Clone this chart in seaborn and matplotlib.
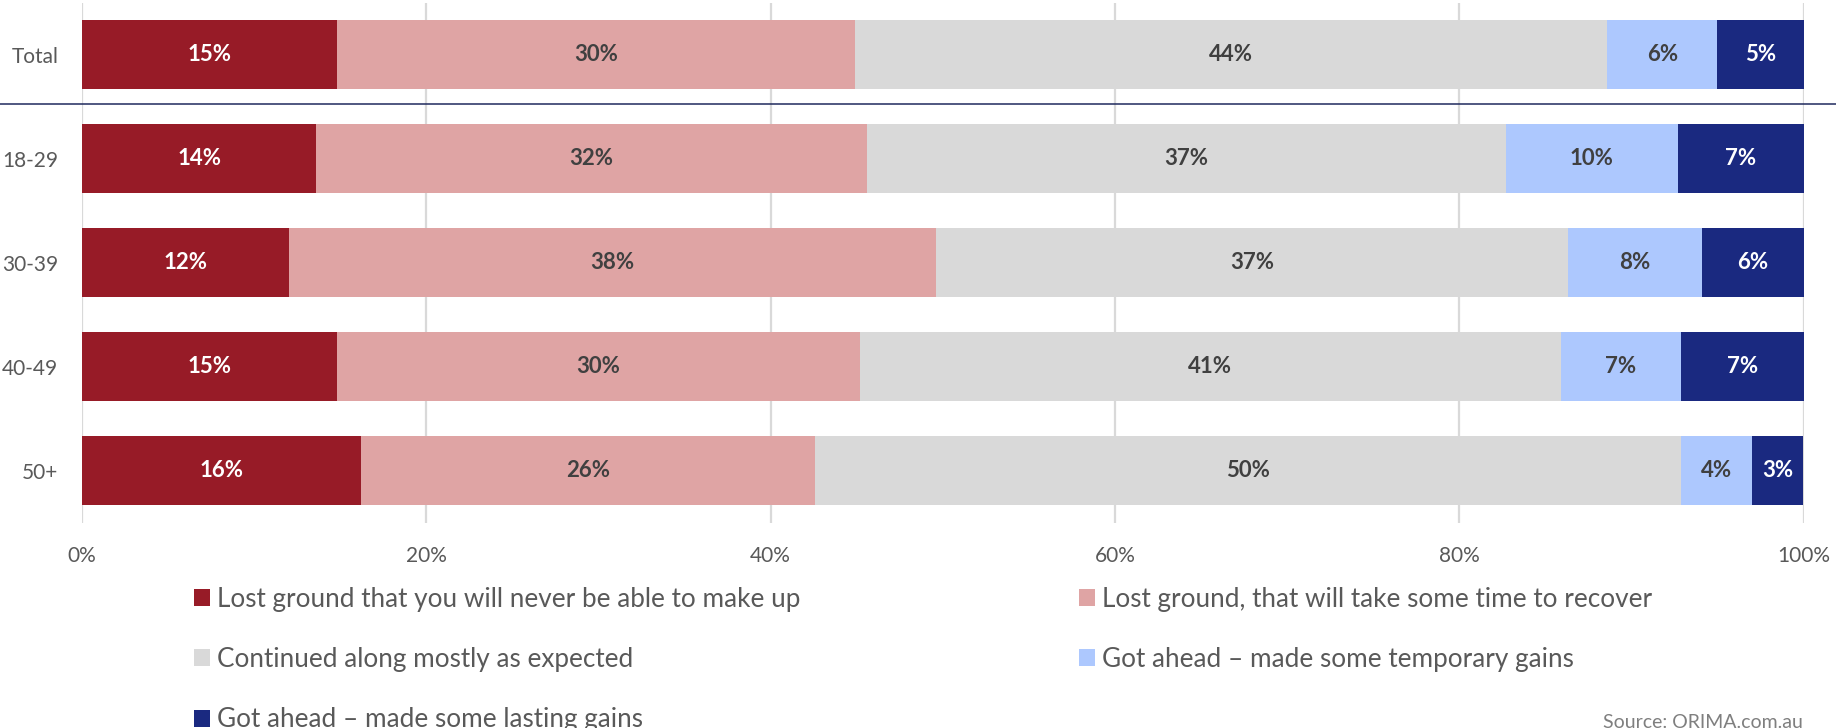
import numpy as np
import pandas as pd
import matplotlib
matplotlib.use('Agg')
import matplotlib.pyplot as plt
from matplotlib.patches import Patch
import seaborn as sns

# ---------------- data ----------------
groups = ['Total', '18-29', '30-39', '40-49', '50+']
series = ['Lost ground that you will never be able to make up',
          'Lost ground, that will take some time to recover',
          'Continued along mostly as expected',
          'Got ahead \u2013 made some temporary gains',
          'Got ahead \u2013 made some lasting gains']
never_make_up = [14.8, 13.6, 12.0, 14.8, 16.2]
some_time = [30.1, 32.0, 37.6, 30.4, 26.4]
as_expected = [43.7, 37.1, 36.7, 40.7, 50.3]
temporary = [6.4, 10.0, 7.8, 7.0, 4.1]
lasting = [5.0, 7.3, 5.9, 7.1, 3.0]
x_ticks = [0, 20, 40, 60, 80, 100]
x_tick_labels = ['0%', '20%', '40%', '60%', '80%', '100%']
source_text = 'Source: ORIMA.com.au'

colors = ['#971B27', '#DFA4A4', '#D9D9D9', '#ADC8FE', '#1A2980']
label_colors = ['white', '#404040', '#404040', '#404040', 'white']

# ---------------- style ----------------
sns.set_theme(style='white')
plt.rcParams['font.family'] = ['Lato', 'DejaVu Sans']

values = np.array([never_make_up, some_time, as_expected, temporary, lasting])
cum = np.cumsum(values, axis=0)

fig = plt.figure(figsize=(18.36, 7.28), dpi=100)
W, H = 1836, 728
ax = fig.add_axes([82 / W, 1 - 522.7 / H, 1721.5 / W, 520 / H])

bar_h = 0.665
for i in reversed(range(len(series))):
    df = pd.DataFrame({'group': groups, 'value': cum[i]})
    sns.barplot(data=df, x='value', y='group', order=groups, orient='h',
                color=colors[i], saturation=1, width=bar_h, linewidth=0,
                ax=ax)

# bar value labels
for i in range(len(series)):
    for j, g in enumerate(groups):
        v = values[i, j]
        ax.text(cum[i, j] - v / 2, j, f"{round(v):.0f}%", ha='center', va='center',
                fontsize=16, fontweight='bold', color=label_colors[i])

ax.set_xlim(0, 100)
ax.set_ylim(4.5, -0.5)
ax.set_xticks(x_ticks)
ax.set_xticklabels(x_tick_labels)
ax.set_xlabel('')
ax.set_ylabel('')
for s in ax.spines.values():
    s.set_visible(False)
ax.set_axisbelow(True)
ax.xaxis.grid(True, color='#D9D9D9', linewidth=1.6)
ax.yaxis.grid(False)
ax.tick_params(axis='x', length=0, pad=17, labelsize=15, labelcolor='#595959')
ax.tick_params(axis='y', length=0, pad=17, labelsize=15, labelcolor='#595959')

# separator between Total and age groups
ax.axhline(0.474, xmin=-82 / 1721.5, xmax=(W - 82) / 1721.5, clip_on=False,
           color='#1F2A5E', linewidth=1.1)

# legend (row-major, two columns built as two legends)
handles = [Patch(facecolor=c, edgecolor='none') for c in colors]
leg_kw = dict(loc='upper left', frameon=False, fontsize=18.8, labelcolor='#595959',
              handlelength=0.62, handleheight=0.62, handletextpad=0.27,
              labelspacing=1.345, borderpad=0, borderaxespad=0)
col1 = [0, 2, 4]
col2 = [1, 3]
fig.legend([handles[k] for k in col1], [series[k] for k in col1],
           bbox_to_anchor=(194 / W, 1 - 587 / H), **leg_kw)
fig.legend([handles[k] for k in col2], [series[k] for k in col2],
           bbox_to_anchor=(1079 / W, 1 - 587 / H), **leg_kw)

fig.text(1803 / W, 1 - 728.5 / H, source_text, ha='right', va='baseline',
         fontsize=14, color='#7F7F7F')

fig.savefig('out.png', dpi=100)
